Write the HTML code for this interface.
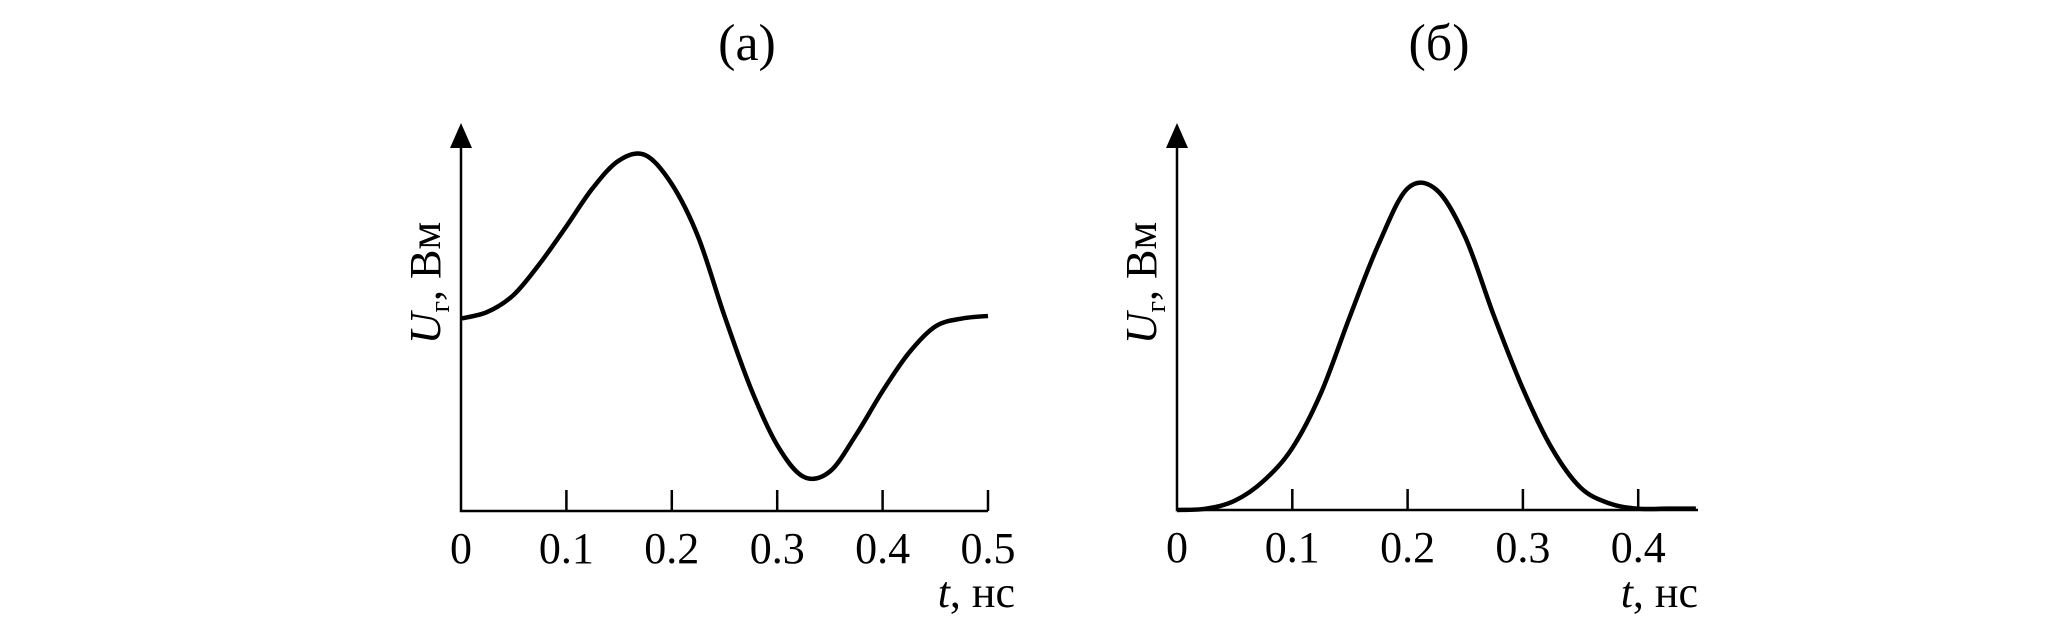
<!DOCTYPE html>
<html><head><meta charset="utf-8"><style>
html,body{margin:0;padding:0;background:#fff}
svg{display:block}
text{font-family:"Liberation Serif","DejaVu Serif",serif;fill:#000}
</style></head><body>
<svg id="fig" width="2067" height="632" viewBox="0 0 2067 632"></svg>
<script>
const tA=[0,0.025,0.05,0.075,0.1,0.125,0.15,0.175,0.2,0.225,0.25,0.275,0.3,0.325,0.35,0.375,0.4,0.425,0.45,0.475,0.5];
const uA=[146,151,164,188,216,245,266,270,248,208,148,93,50,26,30,58,91,120,140,146,148];
const tB=[0,0.025,0.05,0.075,0.1,0.125,0.15,0.175,0.2,0.225,0.25,0.275,0.3,0.325,0.35,0.375,0.4,0.425,0.45];
const uB=[0,1,7,22,47,89,147,202,244,243,207,147,92,47,17,5,1,1,1];
const ticksA=["0","0.1","0.2","0.3","0.4","0.5"];
const ticksB=["0","0.1","0.2","0.3","0.4"];
const NS="http://www.w3.org/2000/svg";
const svg=document.getElementById('fig');
function mk(tag,attrs,parent){const e=document.createElementNS(NS,tag);for(const k in attrs)e.setAttribute(k,attrs[k]);(parent||svg).appendChild(e);return e;}
function panel(o){
  const g=mk('g',{});
  
  
  const x=t=>o.x0+t*o.px;
  const y=v=>o.y0-v*1.318;
  const ax=mk('path',{d:`M${o.x0} 128 V${o.y0} H${o.xEnd}`,fill:'none',stroke:'#000','stroke-width':2.5},g);
  
  
  const ar=mk('polygon',{points:`${o.x0-11},${148} ${o.x0+11},${148} ${o.x0},${123}`,fill:'#000'},g);
  
  
  o.ticks.forEach((lab,i)=>{
    const tv=i*0.1;const xx=x(tv);
    if(i>0){const tk=mk('line',{x1:xx,x2:xx,y1:o.y0-21,y2:o.y0,stroke:'#000','stroke-width':2.5},g);
      
      }
    const tl=mk('text',{x:xx,y:o.y0+52,'font-size':44,'text-anchor':'middle'},g);
    tl.textContent=lab;
    
    
  });
  const pts=o.t.map((t,i)=>[x(t),y(o.u[i])]);
  let d=`M${pts[0][0]} ${pts[0][1]}`;
  for(let i=0;i<pts.length-1;i++){
    const p0=pts[Math.max(0,i-1)],p1=pts[i],p2=pts[i+1],p3=pts[Math.min(pts.length-1,i+2)];
    d+=` C${p1[0]+(p2[0]-p0[0])/6} ${p1[1]+(p2[1]-p0[1])/6} ${p2[0]-(p3[0]-p1[0])/6} ${p2[1]-(p3[1]-p1[1])/6} ${p2[0]} ${p2[1]}`;
  }
  const c=mk('path',{d,fill:'none',stroke:'#000','stroke-width':4.5,'stroke-linejoin':'round'},g);
  
  
  const ti=mk('text',{x:o.titleX,y:60,'font-size':52,'text-anchor':'middle'},g);
  ti.textContent=o.title;
  
  
  const xl=mk('text',{x:o.xlabelX,y:607,'font-size':44,'text-anchor':'end'},g);
  xl.innerHTML='<tspan font-style="italic">t</tspan>, нс';
  
  
  const yl=mk('text',{x:0,y:0,'font-size':44,'text-anchor':'middle',transform:`translate(${o.x0-21},283) rotate(-90)`},g);
  yl.innerHTML='<tspan font-style="italic">U</tspan><tspan font-size="28" dy="9">г</tspan><tspan dy="-9">, Вм</tspan>';
  
  
}
panel({name:'panel-a',x0:461,y0:511,px:1054,xEnd:988,xlabelX:1015,t:tA,u:uA,ticks:ticksA,title:'(а)',titleX:747});
panel({name:'panel-b',x0:1177,y0:510,px:1153,xEnd:1698,xlabelX:1698,t:tB,u:uB,ticks:ticksB,title:'(б)',titleX:1439});
</script>
</body></html>
